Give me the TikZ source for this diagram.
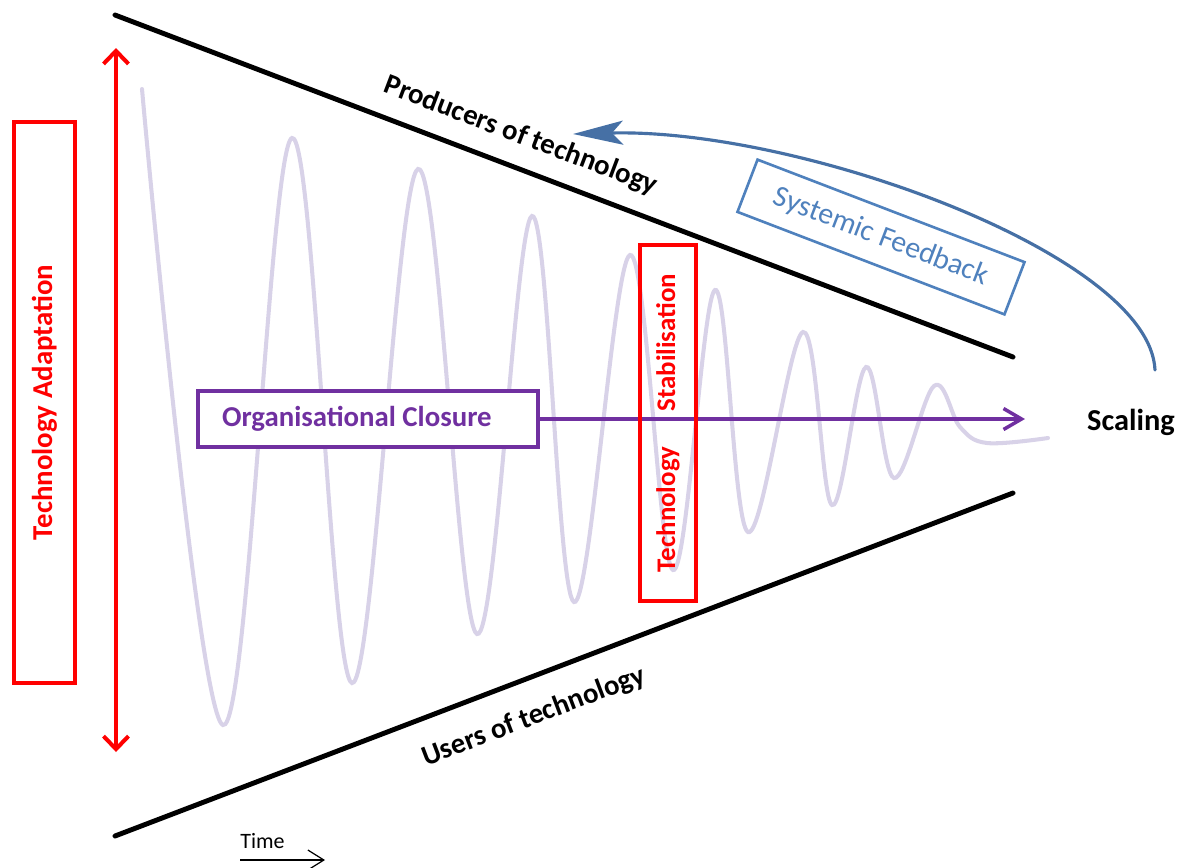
\documentclass[tikz,border=0pt]{standalone}
\usepackage{fontspec}
\setmainfont{Carlito}
\usepackage{xcolor}
\usetikzlibrary{arrows.meta, positioning}

\definecolor{waveviolet}{RGB}{216,210,232}
\definecolor{closurepurple}{RGB}{112,48,160}
\definecolor{feedbackblue}{RGB}{70,112,165}
\definecolor{boxblue}{RGB}{79,129,189}

\tikzset{
    boundary/.style={line width=2.8pt, black, line cap=round},
    linelabel/.style={font=\fontsize{16.4}{20}\selectfont\bfseries, inner sep=0pt},
    redbox/.style={draw=red, line width=2.3pt, inner sep=0pt, text=red,
        font=\fontsize{16.4}{20}\selectfont\bfseries},
    stabbox/.style={draw=red, line width=2.3pt, inner sep=0pt, text=red,
        font=\fontsize{15.3}{18}\selectfont\bfseries},
    closurebox/.style={draw=closurepurple, fill=white, line width=2.3pt, text=closurepurple,
        font=\fontsize{16.4}{20}\selectfont\bfseries, align=left,
        text width=5.84cm, inner xsep=0.48cm, inner ysep=0pt, minimum height=1.12cm},
    feedbackbox/.style={draw=boxblue, line width=1.5pt, text=boxblue, inner sep=0pt,
        font=\fontsize{17}{20}\selectfont},
    barb/.tip={Straight Barb[length=0.26cm, width=0.5cm]}
}

\begin{document}
\begin{tikzpicture}[x=0.02cm, y=-0.02cm]
    \useasboundingbox (0,0) rectangle (1178,867);

    % Damped oscillation
    \draw[waveviolet, line width=2.3pt, line cap=round] plot[smooth, tension=0.6] coordinates {
        (142,89) (223,725) (292,138) (352,683) (418,169) (477,634) (532,216)
        (574,602) (630,255) (673,570) (715,290) (748,532) (803,332) (832,505)
        (866,367) (894,478) (934,386) (960,427) (987,443) (1048,438)};

    % Producers and users
    \coordinate (ptop) at (115,15);
    \coordinate (pend) at (1013,357);
    \coordinate (ubottom) at (115,836);
    \coordinate (uend) at (1013,493);
    \draw[boundary] (ptop) -- (pend);
    \draw[boundary] (ubottom) -- (uend);
    \node[linelabel, rotate=-20.8] (producers) at (521,136) {Producers of technology};
    \node[linelabel, rotate=20.8] (users) at (534,717) {Users of technology};

    % Adaptation range
    \coordinate (adapttop) at (116,48);
    \coordinate (adaptbottom) at (116,752);
    \draw[red, line width=2.3pt, barb-barb] (adapttop) -- (adaptbottom);
    \node[redbox, rotate=90, minimum width=11.22cm, minimum height=1.22cm]
        (adaptation) at (44.5,402.5) {Technology Adaptation};

    % Closure towards scaling
    \node[closurebox] (closure) at (368,419) {Organisational\hspace{0.13cm}Closure};
    \coordinate (closureend) at (1025,419);
    \draw[closurepurple, line width=2pt, -{Straight Barb[length=0.36cm, width=0.42cm]}]
        (closure.east) -- (closureend);
    \node[linelabel, font=\fontsize{17.3}{20}\selectfont\bfseries] (scaling) at (1131,422) {Scaling};

    % Stabilisation
    \node[stabbox, rotate=90, minimum width=7.12cm, minimum height=1.12cm]
        (stabilisation) at (668,423) {Technology\hspace{0.7cm}Stabilisation};

    % Feedback loop
    \coordinate (fbstart) at (1155,370);
    \coordinate (fbtip) at (573,134);
    \draw[feedbackblue, line width=1.8pt, line cap=round,
        -{Stealth[length=1cm, width=0.48cm, inset=0.22cm]}]
        (fbstart) .. controls (1150,255) and (800,128) .. (fbtip);
    \node[feedbackbox, rotate=-21, minimum width=5.72cm, minimum height=1.12cm]
        (feedback) at (881,237) {Systemic Feedback};

    % Time
    \coordinate (timestart) at (240,860);
    \coordinate (timeend) at (325,860);
    \draw[line width=0.7pt, -{Straight Barb[length=0.32cm, width=0.4cm]}] (timestart) -- (timeend);
    \node[anchor=base west, inner sep=0pt, font=\fontsize{12.5}{15}\selectfont] (time) at (240,848) {Time};
\end{tikzpicture}
\end{document}
